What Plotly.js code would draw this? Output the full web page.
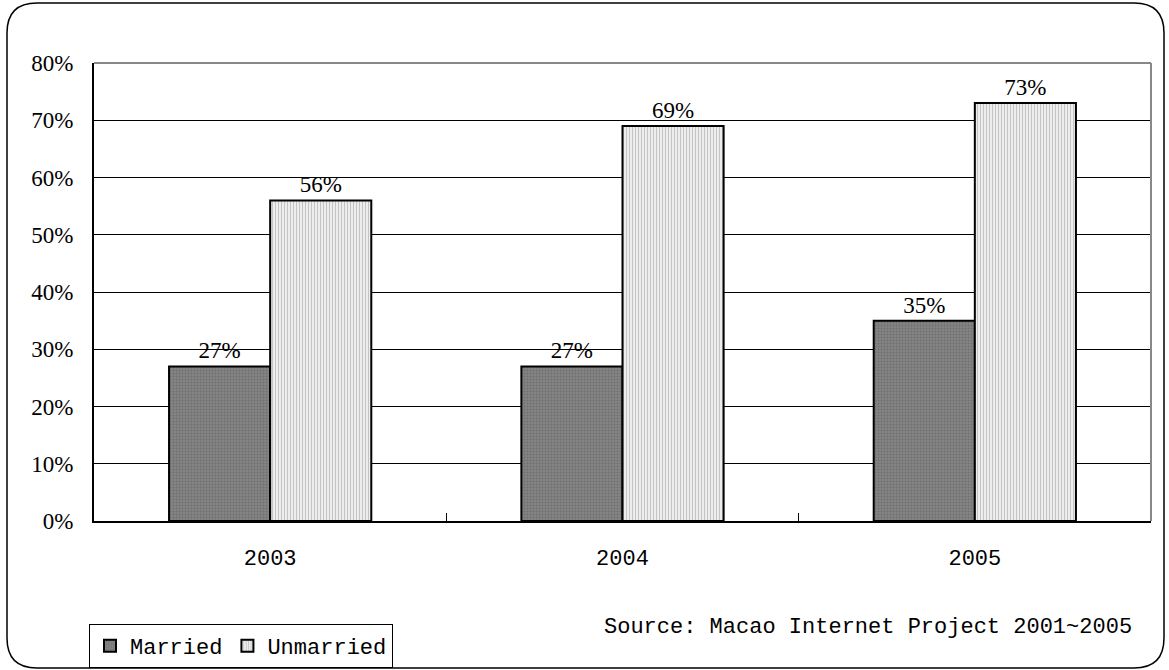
<!DOCTYPE html>
<html><head><meta charset="utf-8">
<script src="https://cdn.plot.ly/plotly-3.0.1.min.js"></script>
<style>html,body{margin:0;padding:0;background:#fff;}#chart{width:1169px;height:670px;}</style>
</head><body><div id="chart"></div>
<script>
const years = ['2003', '2004', '2005'];
const married = [27, 27, 35];
const unmarried = [56, 69, 73];
const seriesNames = ['Married', 'Unmarried'];
const sourceText = 'Source: Macao Internet Project 2001~2005';

const W = 1169, H = 670;
const L = 94, R = 18, T = 63, B = 149;
const pw = W - L - R, ph = H - T - B;
const px = x => (x - L) / pw;
const py = y => (H - B - y) / ph;

// rounded frame
const fx0 = 7, fx1 = 1164, fy0 = 3, fy1 = 668, r = 30;
const framePath = [
  'M', px(fx0 + r), py(fy0),
  'L', px(fx1 - r), py(fy0),
  'Q', px(fx1), py(fy0), px(fx1), py(fy0 + r),
  'L', px(fx1), py(fy1 - r),
  'Q', px(fx1), py(fy1), px(fx1 - r), py(fy1),
  'L', px(fx0 + r), py(fy1),
  'Q', px(fx0), py(fy1), px(fx0), py(fy1 - r),
  'L', px(fx0), py(fy0 + r),
  'Q', px(fx0), py(fy0), px(fx0 + r), py(fy0),
  'Z'
].join(' ');

const serif = 'Liberation Serif, Times New Roman, serif';
const mono = 'Liberation Mono, DejaVu Sans Mono, monospace';

const traces = [
  {
    type: 'bar', name: seriesNames[0], x: years, y: married,
    text: married.map(v => v + '%'), textposition: 'outside', cliponaxis: false,
    textfont: {family: serif, size: 23, color: '#000'},
    marker: {color: '#7f7f7f', line: {color: '#000', width: 2},
      pattern: {shape: '.', bgcolor: '#858585', fgcolor: '#6e6e6e', size: 3, solidity: 0.35}},
    hoverinfo: 'none'
  },
  {
    type: 'bar', name: seriesNames[1], x: years, y: unmarried,
    text: unmarried.map(v => v + '%'), textposition: 'outside', cliponaxis: false,
    textfont: {family: serif, size: 23, color: '#000'},
    marker: {color: '#ffffff', line: {color: '#000', width: 2},
      pattern: {shape: '|', bgcolor: '#f2f2f2', fgcolor: '#c4c4c4', size: 3, solidity: 0.4}},
    hoverinfo: 'none'
  }
];

const layout = {
  width: W, height: H,
  margin: {l: L, r: R, t: T, b: B, pad: 0, autoexpand: false},
  paper_bgcolor: '#fff', plot_bgcolor: '#fff',
  barmode: 'group', bargap: 0.426, bargroupgap: 0,
  showlegend: true,
  legend: {
    orientation: 'h', x: px(89), y: py(624), xanchor: 'left', yanchor: 'top',
    bordercolor: '#000', borderwidth: 1, bgcolor: '#fff',
    font: {family: mono, size: 22, color: '#000'},
    itemwidth: 30, tracegroupgap: 0, traceorder: 'normal'
  },
  xaxis: {
    type: 'category', showgrid: false, zeroline: false, automargin: false,
    showline: true, linecolor: '#000', linewidth: 2,
    ticks: 'inside', tickson: 'boundaries', ticklen: 8, tickcolor: '#000', tickwidth: 1,
    tickfont: {family: mono, size: 22, color: '#000'},
    ticklabelstandoff: 16, fixedrange: true
  },
  yaxis: {
    range: [0, 80], dtick: 10, tick0: 0, ticksuffix: '%', automargin: false,
    showgrid: true, gridcolor: '#000', gridwidth: 1,
    zeroline: false, showline: true, linecolor: '#000', linewidth: 2,
    ticks: '', tickfont: {family: serif, size: 23, color: '#000'},
    ticklabelstandoff: 14, fixedrange: true
  },
  shapes: [
    {type: 'path', xref: 'paper', yref: 'paper', path: framePath,
     line: {color: '#000', width: 1.5}, fillcolor: 'rgba(0,0,0,0)', layer: 'below'},
    {type: 'line', xref: 'paper', yref: 'paper', x0: 0, x1: 1, y0: 1, y1: 1,
     line: {color: '#888', width: 2}, layer: 'above'},
    {type: 'line', xref: 'paper', yref: 'paper', x0: 1, x1: 1, y0: 0, y1: 1,
     line: {color: '#888', width: 2}, layer: 'above'}
  ],
  annotations: [
    {text: sourceText, xref: 'paper', yref: 'paper', x: px(1134), y: py(627),
     xanchor: 'right', yanchor: 'middle', showarrow: false,
     font: {family: mono, size: 22, color: '#000'}}
  ]
};

Plotly.newPlot('chart', traces, layout, {displayModeBar: false, staticPlot: true});
</script></body></html>
